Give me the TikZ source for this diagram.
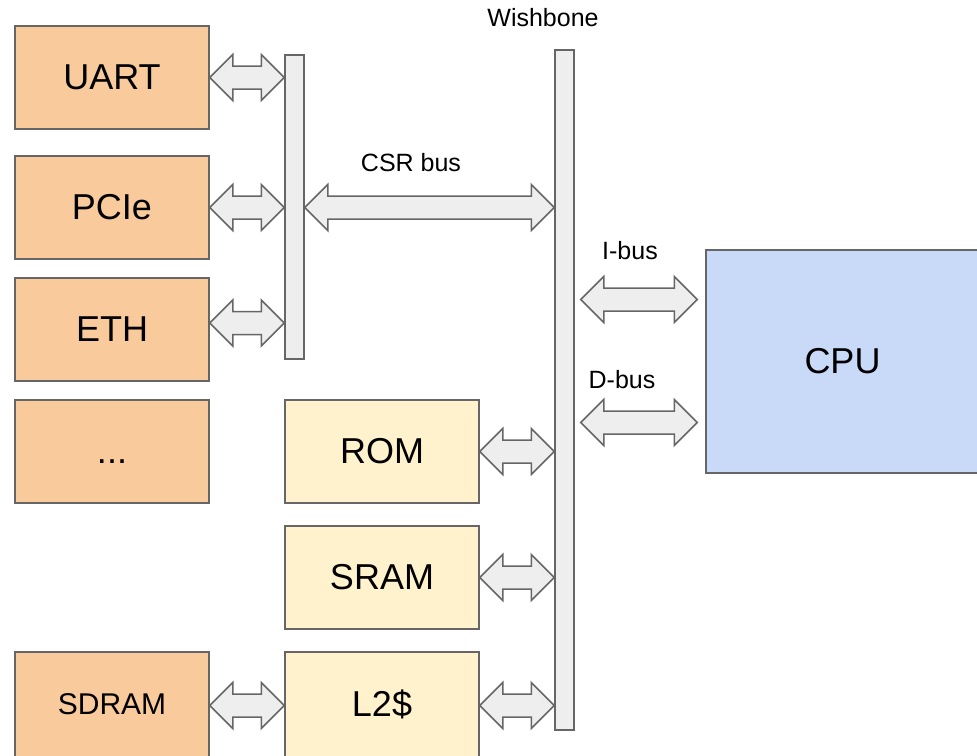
\documentclass[tikz,border=0pt]{standalone}
\usepackage{fontspec}
\setmainfont{Liberation Sans}
\usetikzlibrary{calc}
\definecolor{periph}{HTML}{F9CB9C}
\definecolor{memory}{HTML}{FFF2CC}
\definecolor{core}{HTML}{C9DAF8}
\definecolor{barfill}{HTML}{EEEEEE}
\definecolor{edge}{HTML}{666666}
\newcommand{\busarrow}[2]{%
  \draw[bus] let \p1=(#1), \p2=(#2) in
    (\x1,\y1) -- (\x1+23pt,\y1+23pt) -- (\x1+23pt,\y1+11.5pt) -- (\x2-23pt,\y1+11.5pt)
    -- (\x2-23pt,\y1+23pt) -- (\x2,\y1) -- (\x2-23pt,\y1-23pt) -- (\x2-23pt,\y1-11.5pt)
    -- (\x1+23pt,\y1-11.5pt) -- (\x1+23pt,\y1-23pt) -- cycle;}
\begin{document}
\begin{tikzpicture}[x=1pt,y=-1pt,
  box/.style={draw=edge,line width=1.5pt,inner sep=0pt,minimum width=194pt,minimum height=103pt,font=\fontsize{36}{40}\selectfont},
  bar/.style={draw=edge,fill=barfill,line width=1.5pt,inner sep=0pt,minimum width=19pt},
  bus/.style={draw=edge,fill=barfill,line width=1.5pt,line join=miter},
  label/.style={font=\fontsize{25}{28}\selectfont}]
\useasboundingbox (0,0) rectangle (977,755);
% peripherals
\node[box,fill=periph] (uart) at (112,77.5) {UART};
\node[box,fill=periph] (pcie) at (112,207.5) {PCIe};
\node[box,fill=periph] (eth) at (112,329.5) {ETH};
\node[box,fill=periph] (more) at (112,451.5) {\vphantom{A}...};
\node[box,fill=periph,minimum height=105pt,font=\fontsize{30}{34}\selectfont] (sdram) at (112,704.5) {SDRAM};
% memories
\node[box,fill=memory] (rom) at (382,451.5) {ROM};
\node[box,fill=memory] (sram) at (382,577.5) {SRAM};
\node[box,fill=memory,minimum height=105pt] (l2) at (382,704.5) {L2\$};
\node[box,fill=core,minimum width=273pt,minimum height=223pt] (cpu) at (842.5,361.5) {CPU};
% buses
\node[bar,minimum height=304pt] (csr) at (294.5,207) {};
\node[bar,minimum height=680pt] (wb) at (564.5,390) {};
\node[label] (wblabel) at (543,18) {Wishbone};
\node[label] (csrlabel) at (411,163) {CSR bus};
\node[label] (ibuslabel) at (630,251) {I-bus};
\node[label] (dbuslabel) at (622,380) {D-bus};
\busarrow{uart.east}{uart.east -| csr.west}
\busarrow{pcie.east}{pcie.east -| csr.west}
\busarrow{$(eth.east)+(0,-6.5)$}{$(eth.east -| csr.west)+(0,-6.5)$}
\busarrow{pcie.east -| csr.east}{pcie.east -| wb.west}
\busarrow{rom.east}{rom.east -| wb.west}
\busarrow{sram.east}{sram.east -| wb.west}
\busarrow{$(l2.east)+(0,1)$}{$(l2.east -| wb.west)+(0,1)$}
\busarrow{$(sdram.east)+(0,1)$}{$(l2.west)+(0,1)$}
\busarrow{$(wb.east |- cpu.west)+(6,-62)$}{$(cpu.west)+(-8,-62)$}
\busarrow{$(wb.east |- cpu.west)+(6,61)$}{$(cpu.west)+(-8,61)$}
\end{tikzpicture}
\end{document}
